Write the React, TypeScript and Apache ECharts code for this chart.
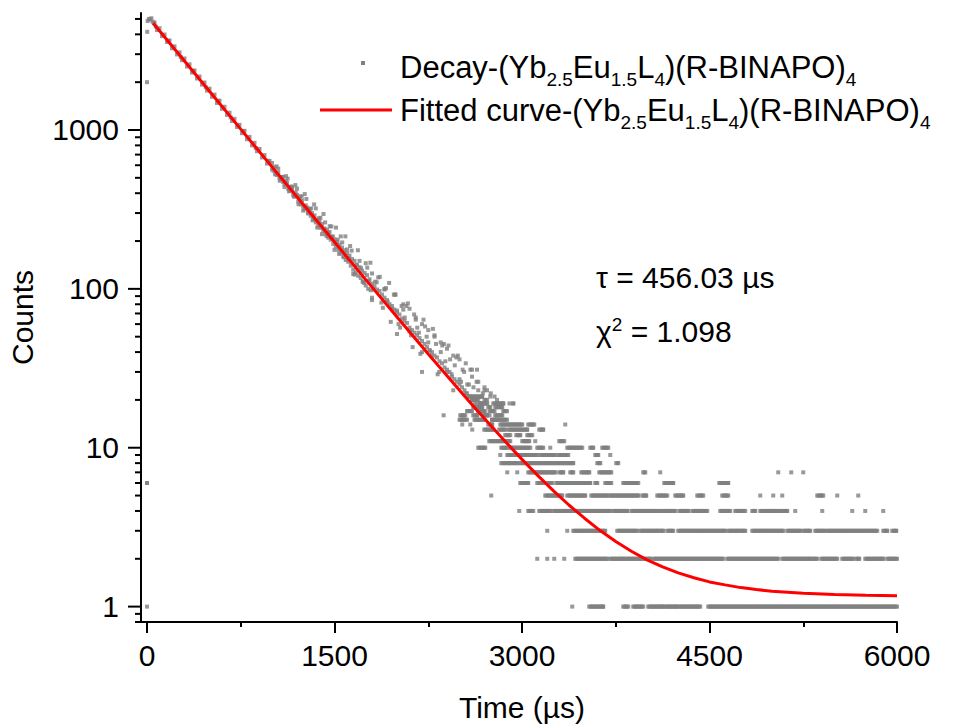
import React, { useEffect, useRef } from "react";
import * as echarts from "echarts";

const FONT = "'Liberation Sans', Arial, Helvetica, sans-serif";

// Axis ranges and ticks
const xMin = 0;
const xMax = 6000;
const xInterval = 1500;
const yMin = 0.8;
const yMax = 5450;
const yMajorTicks = [1, 10, 100, 1000];
const yMinorTicks = [
  0.8, 0.9, 2, 3, 4, 5, 6, 7, 8, 9, 20, 30, 40, 50, 60, 70, 80, 90,
  200, 300, 400, 500, 600, 700, 800, 900, 2000, 3000, 4000, 5000,
];

// Decay data: explicit points of the high-count part [time µs, counts]
const riseEdge = [
  [0, 1], [0, 6], [0, 2000], [2, 4150], [5, 4850], [15, 5000], [25, 4950],
  [35, 5050], [45, 4800], [55, 4700],
];
const decayEarly = [
  [60, 4750], [80, 4260], [100, 4370], [120, 3900], [140, 3990], [160, 3580],
  [180, 3660], [200, 3270], [220, 3360], [240, 2990], [260, 3080], [280, 2750],
  [300, 2820], [320, 2510], [340, 2590], [360, 2300], [380, 2370], [400, 2110],
  [420, 2170], [440, 1930], [460, 1990], [480, 1770], [500, 1820], [520, 1620],
  [540, 1670], [560, 1480], [580, 1530], [600, 1360], [620, 1400], [640, 1245],
  [660, 1285], [680, 1140], [700, 1175], [720, 1045], [740, 1078], [760, 955],
  [780, 988], [800, 875], [820, 905], [840, 800], [860, 830], [880, 735],
  [900, 760], [920, 672], [940, 695], [960, 615], [980, 638], [1000, 565],
  [70, 4480], [170, 3640], [270, 2880], [370, 2350], [470, 1860], [570, 1520],
  [670, 1200], [770, 985], [870, 770], [970, 640],
];
const decayMid = [
  [1020, 585], [1030, 535], [1040, 520], [1050, 540], [1060, 500], [1070, 490],
  [1080, 505], [1090, 470], [1100, 455], [1110, 478], [1120, 465], [1130, 425],
  [1140, 415], [1150, 440], [1160, 425], [1170, 390], [1180, 380], [1190, 405],
  [1200, 390], [1210, 355], [1220, 372], [1230, 340], [1240, 360], [1250, 330],
  [1260, 318], [1270, 335], [1280, 325], [1290, 298], [1300, 315], [1310, 288],
  [1320, 300], [1330, 275], [1340, 290], [1350, 262], [1360, 272], [1370, 250],
  [1380, 268], [1390, 242], [1400, 256], [1410, 232], [1420, 240], [1430, 221],
  [1440, 236], [1450, 210], [1460, 228], [1470, 204], [1480, 214], [1490, 192],
  [1500, 205], [1510, 185], [1520, 198], [1530, 176], [1540, 190], [1550, 168],
  [1560, 182], [1570, 160], [1580, 175], [1590, 152], [1600, 168], [1610, 148],
  [1620, 162], [1630, 140], [1640, 154], [1650, 132], [1660, 150], [1670, 127],
  [1680, 141], [1690, 121], [1700, 137], [1710, 117], [1720, 130], [1730, 111],
  [1740, 126], [1750, 105], [1760, 122], [1770, 100], [1780, 115], [1790, 98],
];
const decayScatterA = [
  [1000, 620], [1025, 526], [1050, 571], [1075, 506], [1100, 437], [1125, 494],
  [1150, 438], [1175, 383], [1200, 427], [1225, 382], [1250, 311], [1275, 368],
  [1300, 318], [1325, 270], [1350, 321], [1375, 278], [1400, 221], [1425, 262],
  [1450, 225], [1475, 247], [1500, 176], [1525, 204], [1550, 214], [1575, 158],
  [1600, 177], [1625, 186], [1650, 124], [1675, 142], [1700, 150], [1725, 111],
  [1750, 145], [1775, 112], [1800, 88], [1825, 111], [1850, 118], [1875, 82],
  [1900, 99], [1925, 83], [1950, 62], [1975, 92], [2000, 73], [2025, 57],
  [2050, 74], [2075, 78], [2100, 54], [2125, 43], [2150, 64], [2175, 53],
  [2200, 40], [2225, 58], [2250, 46], [2275, 38], [2300, 51], [2325, 29],
  [2350, 40], [2375, 45], [2400, 30], [2425, 36], [2450, 23], [2475, 37],
  [2500, 27], [2525, 31], [2550, 22], [2575, 25], [2600, 28], [2625, 20],
  [2650, 23], [2675, 19], [2700, 23],
];
const decayScatterB = [
  [1012, 553], [1037, 590], [1062, 479], [1087, 507], [1112, 512], [1137, 411],
  [1162, 439], [1187, 450], [1212, 341], [1237, 382], [1262, 395], [1287, 302],
  [1312, 321], [1337, 340], [1362, 243], [1387, 280], [1412, 296], [1437, 215],
  [1462, 248], [1487, 213], [1512, 243], [1537, 166], [1562, 196], [1587, 214],
  [1612, 156], [1637, 174], [1662, 123], [1687, 175], [1712, 135], [1737, 109],
  [1762, 136], [1787, 146], [1812, 99], [1837, 110], [1862, 119], [1887, 76],
  [1912, 101], [1937, 109], [1962, 75], [1987, 92], [2012, 60], [2037, 78],
  [2062, 66], [2087, 81], [2112, 51], [2137, 69], [2162, 57], [2187, 39],
  [2212, 64], [2237, 50], [2262, 41], [2287, 56], [2312, 45], [2337, 30],
  [2362, 44], [2387, 35], [2412, 44], [2437, 29], [2462, 33], [2487, 38],
  [2512, 26], [2537, 30], [2562, 25], [2587, 31], [2612, 24], [2637, 26],
  [2662, 19], [2687, 22],
];
const decayLate = [
  [1800, 108], [1820, 104], [1840, 99], [1860, 97], [1880, 92], [1900, 88],
  [1920, 85], [1940, 80], [1960, 78], [1980, 74], [2000, 71], [2020, 69],
  [2040, 65], [2060, 63], [2080, 61], [2100, 57], [2120, 55], [2140, 53],
  [2160, 51], [2180, 49], [2200, 47], [2220, 45], [2240, 43], [2260, 41],
  [2280, 40], [2300, 38], [2320, 37], [2340, 35], [2360, 34], [2380, 32],
  [2400, 31], [2420, 30], [2440, 28], [2460, 27], [2480, 26], [2500, 25],
  [2520, 24], [2540, 23], [2560, 22], [2580, 21], [2600, 20], [2620, 19],
  [2640, 19], [2660, 18], [2680, 17], [2700, 17], [2720, 16], [2740, 16],
  [2760, 15], [2780, 15], [2800, 15],
  [1800, 125], [1900, 100], [1986, 92], [2050, 80], [2100, 75], [2150, 66],
  [2200, 60], [2250, 55], [2300, 50], [2350, 46], [2400, 42], [2450, 38],
  [2500, 36], [2550, 34], [2600, 31], [2640, 31], [2700, 24], [2750, 22],
  [2800, 20], [2850, 19], [2900, 19], [2930, 19], [2373, 16], [2200, 30],
  [2000, 52], [1800, 85], [2650, 26], [2720, 23], [2780, 21],
];

// Low-count tail: for each integer count level, the time ranges [from, to] (µs) where dots are seen
const runsL1 = [[3402, 3402], [3538, 3650], [3810, 3850], [3890, 3970], [4010, 4122], [4138, 4242], [4258, 4426], [4490, 6000]];
const runsL2 = [[3122, 3122], [3202, 3202], [3258, 3258], [3338, 3338], [3426, 3682], [3706, 3818], [3834, 3898], [3914, 4026], [4050, 4610], [4642, 4962], [4970, 5050], [5082, 5306], [5322, 5362], [5394, 5522], [5562, 5650], [5674, 5698], [5746, 5890], [5922, 6000]];
const runsL3 = [[3202, 3202], [3362, 3362], [3410, 3666], [3762, 3922], [3946, 4090], [4106, 4130], [4162, 4210], [4250, 4626], [4650, 4786], [4842, 5090], [5122, 5226], [5250, 5306], [5346, 5426], [5442, 5842], [5890, 5922], [5962, 5994]];
const runsL4 = [[2978, 2978], [3050, 3090], [3138, 3226], [3250, 3706], [3730, 3842], [3874, 4082], [4098, 4226], [4258, 4330], [4362, 4482], [4586, 4666], [4706, 4786], [4842, 4866], [4906, 5042], [5058, 5122], [5186, 5186], [5402, 5402], [5642, 5642], [5746, 5746], [5890, 5890]];
const runsL5 = [[2754, 2754], [3186, 3322], [3362, 3506], [3554, 3682], [3698, 3890], [3906, 3930], [3962, 3994], [4082, 4162], [4226, 4290], [4402, 4450], [4602, 4650], [4906, 4906], [5010, 5010], [5082, 5082], [5362, 5410], [5522, 5522], [5690, 5690]];
const runsL6 = [[0, 0], [2986, 3050], [3122, 3170], [3202, 3242], [3274, 3546], [3586, 3602], [3666, 3714], [3810, 3930], [4138, 4210], [4578, 4650]];
const runsL7 = [[2882, 2882], [2962, 2962], [3050, 3266], [3298, 3330], [3386, 3410], [3474, 3538], [3618, 3714], [3970, 3986], [4106, 4106], [5050, 5050], [5154, 5154], [5250, 5250]];
const runsL8 = [[2834, 2962], [2978, 3410], [3602, 3626], [3754, 3770]];
const runsL9 = [[2826, 2826], [2882, 3122], [3146, 3266], [3290, 3370], [3586, 3610], [3706, 3706]];
const runsL10 = [[2650, 2706], [2834, 2882], [2906, 3066], [3122, 3170], [3226, 3226], [3362, 3482], [3546, 3570], [3642, 3690]];
const runsL11 = [[2738, 2906], [3002, 3058], [3106, 3106], [3298, 3338]];
const runsL12 = [[2866, 2906], [2954, 2986], [3042, 3082]];
const runsL13 = [[2602, 2602], [2698, 2770], [2818, 2866], [2890, 3042], [3138, 3170]];
const runsL14 = [[2522, 2522], [2586, 2586], [2730, 2762], [2826, 3002], [3050, 3098], [3346, 3346]];
const runsL15 = [[2500, 2560], [2620, 2700], [2760, 2880]];
const runsL16 = [[2506, 2546], [2610, 2642], [2690, 2722], [2786, 2842]];
const runsL17 = [[2560, 2600], [2650, 2700], [2740, 2780], [2850, 2880]];
const runsL18 = [[2610, 2682], [2730, 2746], [2786, 2842]];
const runsL19 = [[2666, 2722], [2770, 2802], [2810, 2850], [2930, 2930]];
const runsL20 = [[2600, 2650], [2700, 2720]];
const runsL21 = [[2570, 2682], [2746, 2746]];
const tailLevels = [1, 2, 3, 4, 5, 6, 7, 8, 9, 10, 11, 12, 13, 14, 15, 16, 17, 18, 19, 20, 21];
const tailRuns = [runsL1, runsL2, runsL3, runsL4, runsL5, runsL6, runsL7, runsL8, runsL9, runsL10, runsL11, runsL12, runsL13, runsL14, runsL15, runsL16, runsL17, runsL18, runsL19, runsL20, runsL21];

// Fitted curve
const fitT = [50, 250, 500, 750, 1000, 1250, 1500, 1750, 2000, 2250, 2500, 2625, 2750, 2875, 3000, 3125, 3250, 3375, 3500, 3625, 3750, 3875, 4000, 4125, 4250, 4375, 4500, 4625, 4750, 4875, 5000, 5250, 5500, 5750, 6000];
const fitV = [4700, 3033, 1754, 1013, 586, 340, 197, 114.3, 66.5, 38.9, 23.0, 17.75, 13.8, 10.75, 8.45, 6.7, 5.37, 4.36, 3.6, 3.01, 2.57, 2.23, 1.97, 1.78, 1.63, 1.52, 1.43, 1.37, 1.317, 1.28, 1.25, 1.212, 1.19, 1.178, 1.17];

const seriesNames = ["Decay-(Yb2.5Eu1.5L4)(R-BINAPO)4", "Fitted curve-(Yb2.5Eu1.5L4)(R-BINAPO)4"];

const TAIL_STEP = 10;
const Y_OFFSET = 6;

export default function App() {
  const ref = useRef<HTMLDivElement>(null);

  useEffect(() => {
    document.body.style.margin = "0";
    if (!ref.current) return;
    const chart = echarts.init(ref.current, undefined, { renderer: "svg" });

    const scatterData: number[][] = [];
    [riseEdge, decayEarly, decayMid, decayScatterA, decayScatterB, decayLate].forEach((arr) =>
      arr.forEach((p) => scatterData.push(p))
    );
    tailRuns.forEach((runs, i) => {
      const lv = tailLevels[i];
      runs.forEach(([a, b]) => {
        for (let t = a; t <= b; t += TAIL_STEP) scatterData.push([t, lv]);
        if ((b - a) % TAIL_STEP !== 0) scatterData.push([b, lv]);
      });
    });

    const fitData = fitT.map((t, i) => [t, fitV[i]]);

    const tickData: number[][] = [];
    yMajorTicks.forEach((v) => tickData.push([0, v, 1]));
    yMinorTicks.forEach((v) => tickData.push([0, v, 0]));
    tickData.push([0, yMin, 2]);

    const option: any = {
      animation: false,
      backgroundColor: "#ffffff",
      textStyle: { fontFamily: FONT },
      grid: {
        left: 147,
        right: 59,
        top: 13,
        bottom: 105,
        containLabel: false,
        outerBoundsMode: "none",
      },
      xAxis: {
        type: "value",
        min: xMin,
        max: xMax,
        interval: xInterval,
        name: "Time (µs)",
        nameLocation: "middle",
        nameGap: 70,
        nameTextStyle: { fontSize: 30, color: "#000", fontFamily: FONT },
        splitLine: { show: false },
        axisLine: { show: true, onZero: false, lineStyle: { color: "#000", width: 2 } },
        axisTick: { show: true, inside: false, length: 11, lineStyle: { color: "#000", width: 2 } },
        minorTick: { show: true, splitNumber: 2, length: 5, lineStyle: { color: "#000", width: 2 } },
        axisLabel: {
          fontSize: 30,
          color: "#000",
          margin: 18,
          fontFamily: FONT,
          formatter: (v: number) => String(v),
        },
      },
      yAxis: {
        type: "log",
        logBase: 10,
        min: yMin,
        max: yMax,
        offset: Y_OFFSET,
        name: "Counts",
        nameLocation: "middle",
        nameGap: 104,
        nameTextStyle: { fontSize: 30, color: "#000", fontFamily: FONT },
        splitLine: { show: false },
        axisLine: { show: true, onZero: false, lineStyle: { color: "#000", width: 2 } },
        axisTick: { show: false },
        minorTick: { show: false },
        axisLabel: {
          fontSize: 30,
          color: "#000",
          margin: 22,
          fontFamily: FONT,
          formatter: (v: number) => {
            const l = Math.log10(v);
            if (Math.abs(l - Math.round(l)) < 1e-6 && Math.round(l) >= 0) return String(Math.round(v));
            return "";
          },
        },
      },
      series: [
        {
          name: seriesNames[0],
          type: "scatter",
          data: scatterData,
          symbol: "rect",
          symbolSize: 4,
          itemStyle: { color: "#808080" },
          silent: true,
          z: 2,
        },
        {
          name: seriesNames[1],
          type: "line",
          data: fitData,
          showSymbol: false,
          smooth: false,
          lineStyle: { color: "#ff0000", width: 3 },
          silent: true,
          z: 3,
        },
        {
          type: "custom",
          data: tickData,
          encode: { x: 0, y: 1 },
          clip: false,
          silent: true,
          z: 5,
          renderItem: (params: any, api: any) => {
            const v = api.value(1);
            const kind = api.value(2);
            const p = api.coord([xMin, v]);
            const ax = p[0] - Y_OFFSET;
            if (kind === 2) {
              return {
                type: "line",
                shape: { x1: ax - 1, y1: p[1], x2: p[0] + 1, y2: p[1] },
                style: { stroke: "#000", lineWidth: 2 },
              };
            }
            const len = kind === 1 ? 13 : 6;
            return {
              type: "line",
              shape: { x1: ax - len, y1: p[1], x2: ax, y2: p[1] },
              style: { stroke: "#000", lineWidth: 2 },
            };
          },
        },
      ],
      graphic: [
        {
          type: "rect",
          shape: { x: 361, y: 61, width: 4, height: 4 },
          style: { fill: "#808080" },
          silent: true,
        },
        {
          type: "line",
          shape: { x1: 320, y1: 110, x2: 392, y2: 110 },
          style: { stroke: "#ff0000", lineWidth: 3 },
          silent: true,
        },
        {
          type: "text",
          x: 400,
          y: 67,
          silent: true,
          style: {
            text: "Decay-(Yb{s|2.5}Eu{s|1.5}L{s|4})(R-BINAPO){s|4}",
            fontSize: 31,
            fontFamily: FONT,
            fill: "#000",
            lineHeight: 44,
            verticalAlign: "middle",
            align: "left",
            rich: {
              s: { fontSize: 19, fontFamily: FONT, fill: "#000", verticalAlign: "bottom", lineHeight: 19 },
            },
          },
        },
        {
          type: "text",
          x: 400,
          y: 110,
          silent: true,
          style: {
            text: "Fitted curve-(Yb{s|2.5}Eu{s|1.5}L{s|4})(R-BINAPO){s|4}",
            fontSize: 31,
            fontFamily: FONT,
            fill: "#000",
            lineHeight: 44,
            verticalAlign: "middle",
            align: "left",
            rich: {
              s: { fontSize: 19, fontFamily: FONT, fill: "#000", verticalAlign: "bottom", lineHeight: 19 },
            },
          },
        },
        {
          type: "text",
          x: 596,
          y: 277,
          silent: true,
          style: {
            text: "τ = 456.03 µs",
            fontSize: 30,
            fontFamily: FONT,
            fill: "#000",
            verticalAlign: "middle",
            align: "left",
          },
        },
        {
          type: "text",
          x: 596,
          y: 331,
          silent: true,
          style: {
            text: "χ{p|2} = 1.098",
            fontSize: 30,
            fontFamily: FONT,
            fill: "#000",
            lineHeight: 32,
            verticalAlign: "middle",
            align: "left",
            rich: {
              p: { fontSize: 19, fontFamily: FONT, fill: "#000", verticalAlign: "top", lineHeight: 19 },
            },
          },
        },
      ],
    };

    chart.setOption(option);
    return () => {
      chart.dispose();
    };
  }, []);

  return <div ref={ref} style={{ width: 956, height: 727 }} />;
}
